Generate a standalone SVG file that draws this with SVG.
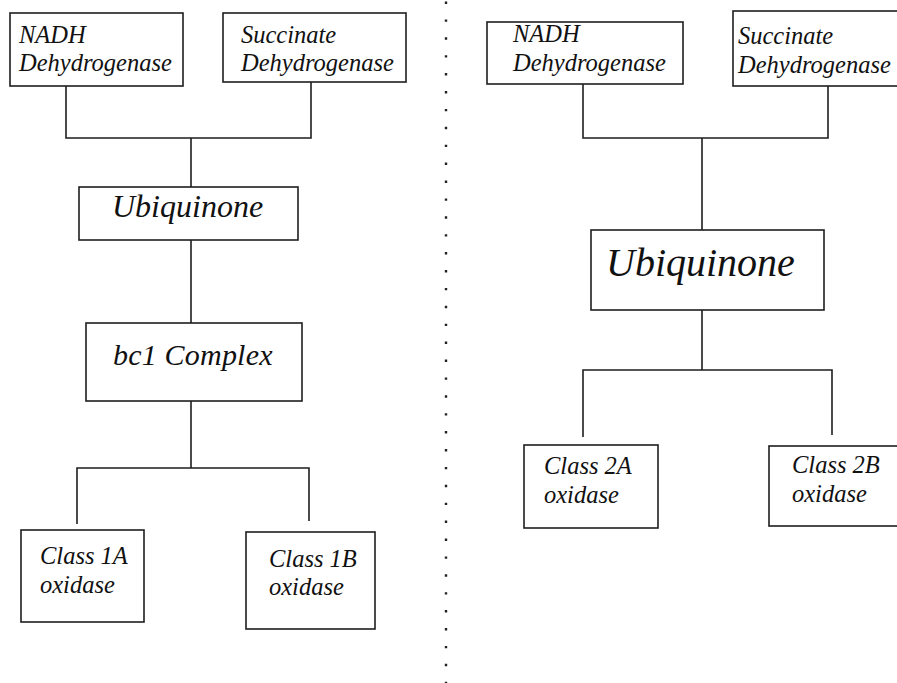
<svg xmlns="http://www.w3.org/2000/svg" width="897" height="683" viewBox="0 0 897 683">
<style>
.box{fill:none;stroke:#1e1e1e;stroke-width:1.6}
.ln{fill:none;stroke:#1e1e1e;stroke-width:1.6}
.t{font-family:"Liberation Serif","Times New Roman",serif;font-style:italic;fill:#111}
.s24{font-size:24.5px}
.dots{fill:none;stroke:#222;stroke-width:2.4;stroke-dasharray:2.4 15.5}
</style>
<rect width="897" height="683" fill="#fff"/>
<line class="dots" x1="446" y1="1.5" x2="446" y2="683"/>
<g id="connectors">
<path class="ln" d="M66 86V138H311V82M191 138V187M191 240V323M191 401V468M77 524V468H309V521"/>
<path class="ln" d="M583 84V138H828V86M702 138V230M702 310V370M583 437V370H832V435"/>
</g>
<g id="nadh-left">
<rect class="box" x="10" y="13" width="173" height="73"/>
<text class="t s24" x="19" y="43">NADH</text>
<text class="t s24" x="19" y="71">Dehydrogenase</text>
</g>
<g id="succinate-left">
<rect class="box" x="223" y="13" width="183" height="69"/>
<text class="t s24" x="241" y="43">Succinate</text>
<text class="t s24" x="241" y="71">Dehydrogenase</text>
</g>
<g id="ubiquinone-left">
<rect class="box" x="79" y="187" width="219" height="53"/>
<text class="t" font-size="32" x="112" y="217">Ubiquinone</text>
</g>
<g id="bc1-complex">
<rect class="box" x="86" y="323" width="216" height="78"/>
<text class="t" font-size="30" x="113" y="365" letter-spacing="0.2">bc1 Complex</text>
</g>
<g id="class-1a">
<rect class="box" x="21" y="530" width="123" height="92"/>
<text class="t s24" x="40" y="564">Class 1A</text>
<text class="t s24" x="40" y="593">oxidase</text>
</g>
<g id="class-1b">
<rect class="box" x="246" y="532" width="129" height="97"/>
<text class="t s24" x="269" y="567">Class 1B</text>
<text class="t s24" x="269" y="595">oxidase</text>
</g>
<g id="nadh-right">
<rect class="box" x="487" y="22" width="196" height="62"/>
<text class="t s24" x="513" y="42">NADH</text>
<text class="t s24" x="513" y="71">Dehydrogenase</text>
</g>
<g id="succinate-right">
<rect class="box" x="733" y="11" width="170" height="75"/>
<text class="t s24" x="738" y="44">Succinate</text>
<text class="t s24" x="738" y="73">Dehydrogenase</text>
</g>
<g id="ubiquinone-right">
<rect class="box" x="591" y="230" width="233" height="80"/>
<text class="t" font-size="40" x="606" y="276">Ubiquinone</text>
</g>
<g id="class-2a">
<rect class="box" x="524" y="445" width="134" height="83"/>
<text class="t s24" x="544" y="474">Class 2A</text>
<text class="t s24" x="544" y="503">oxidase</text>
</g>
<g id="class-2b">
<rect class="box" x="769" y="446" width="135" height="80"/>
<text class="t s24" x="792" y="473">Class 2B</text>
<text class="t s24" x="792" y="502">oxidase</text>
</g>
</svg>
